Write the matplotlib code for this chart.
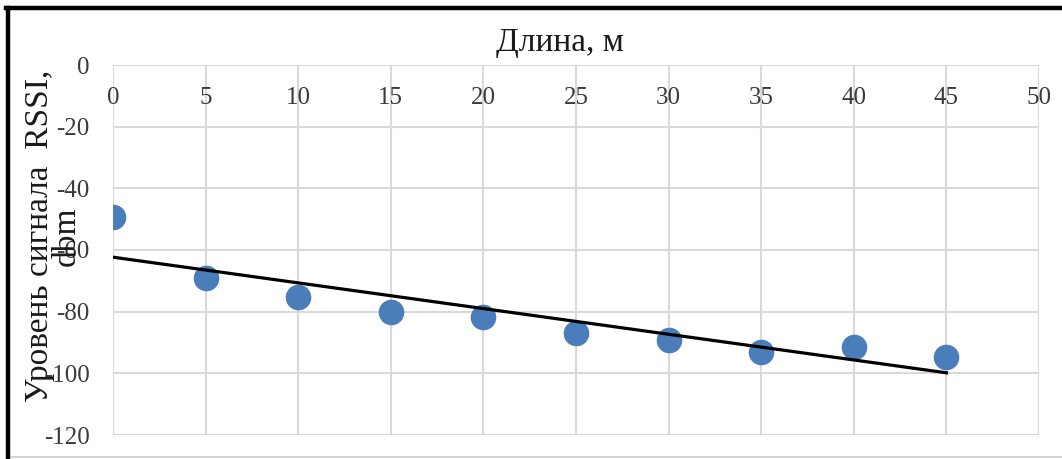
import numpy as np
import matplotlib
matplotlib.use("Agg")
import matplotlib.pyplot as plt
from matplotlib.lines import Line2D

# Data
distance_m = [0, 5, 10, 15, 20, 25, 30, 35, 40, 45]
rssi_dbm = [-49.3, -69.1, -75.2, -80.1, -81.7, -86.9, -89.2, -93.1, -91.5, -94.7]
x_ticks = [0, 5, 10, 15, 20, 25, 30, 35, 40, 45, 50]
y_ticks = [0, -20, -40, -60, -80, -100, -120]
title_text = "Длина, м"
ylabel_text = "Уровень сигнала  RSSI,\ndbm"

W, H = 1062, 459
fig = plt.figure(figsize=(W / 100, H / 100), dpi=100)
plt.rcParams['font.family'] = ['Liberation Serif', 'DejaVu Serif']

ax = fig.add_axes([113 / W, 1 - 435 / H, (1039 - 113) / W, (435 - 65) / H])
ax.set_xlim(0, 50)
ax.set_ylim(-120, 0)
ax.set_xticks(x_ticks)
ax.set_yticks(y_ticks)
ax.set_xticklabels([str(v) for v in x_ticks])
ax.set_yticklabels([str(v) for v in y_ticks])
ax.grid(True, color='#d9d9d9', linewidth=1.5)
ax.set_axisbelow(True)
for s in ax.spines.values():
    s.set_visible(False)
ax.tick_params(axis='x', top=False, labeltop=True, bottom=False, labelbottom=False,
               length=0, pad=-32, labelsize=18, labelcolor='#3a3a3a')
ax.tick_params(axis='y', left=False, length=0, pad=17, labelsize=18, labelcolor='#3a3a3a')

x = np.array(distance_m, dtype=float)
y = np.array(rssi_dbm, dtype=float)
ax.scatter(x, y, s=340, color='#4a7ebb', zorder=3, linewidths=0)
k, b = np.polyfit(x, y, 1)
xf = np.array([x.min(), x.max()])
ax.plot(xf, k * xf + b, color='black', linewidth=2.3, zorder=4)

fig.text(560 / W, 1 - 43 / H, title_text, ha='center', va='center', fontsize=24, color='#1a1a1a')
fig.text(53 / W, 1 - 236 / H, ylabel_text, ha='center', va='center', rotation=90,
         fontsize=24, color='#1a1a1a', multialignment='center', linespacing=0.85)

# Frame lines
fig.add_artist(Line2D([8 / W, 8 / W], [0, 1 - 8 / H], color='black', linewidth=3.2, transform=fig.transFigure))
fig.add_artist(Line2D([6 / W, 1], [1 - 8 / H, 1 - 8 / H], color='black', linewidth=3.2, transform=fig.transFigure))
fig.add_artist(Line2D([11 / W, 1], [1 - 457 / H, 1 - 457 / H], color='#c8c8c8', linewidth=1.2, transform=fig.transFigure))

fig.savefig('out.png', dpi=100)
